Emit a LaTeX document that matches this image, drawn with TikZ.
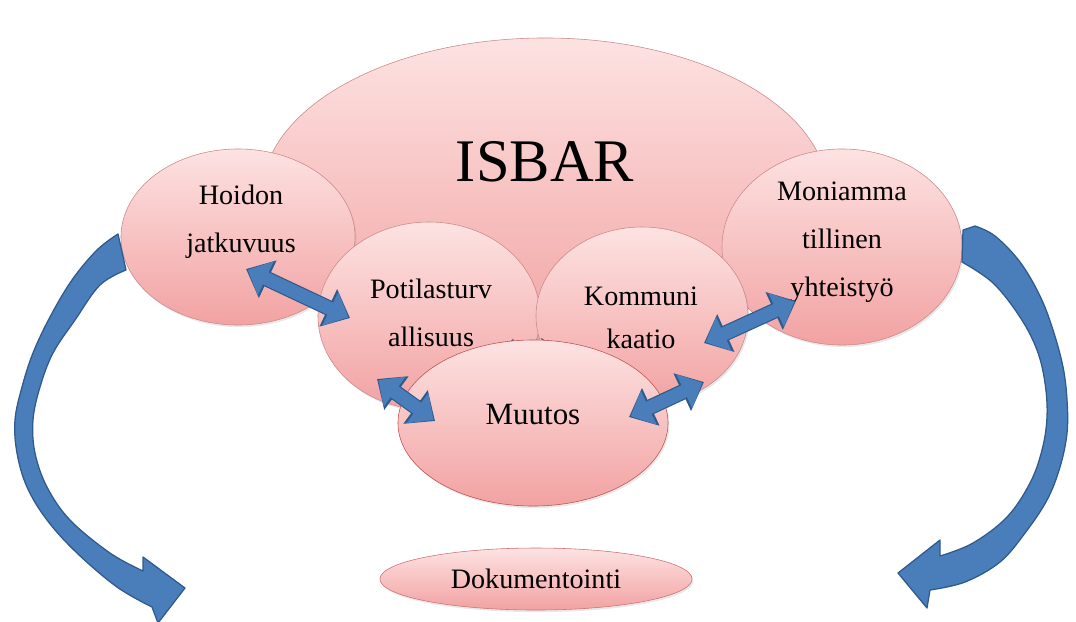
\documentclass[tikz,border=0pt]{standalone}
\usepackage{fontspec}
\setmainfont{Liberation Serif}
\usetikzlibrary{arrows.meta}
\usetikzlibrary{shapes.geometric, shadows}

\definecolor{bubbletop}{HTML}{FDE2E2}
\definecolor{bubblebottom}{HTML}{F2A2A2}
\definecolor{bubbleedge}{HTML}{C98A8A}
\definecolor{muutosedge}{HTML}{C0504D}
\definecolor{dokedge}{HTML}{CF7070}
\definecolor{arrowblue}{HTML}{4A7EBB}
\definecolor{arrowedge}{HTML}{2F5A8C}

\begin{document}
\begin{tikzpicture}[
            x=0.025cm, y=-0.025cm,
            bubble/.style={ellipse, draw=bubbleedge, thin, top color=bubbletop, bottom color=bubblebottom, inner sep=0pt,
                drop shadow={opacity=0.18, shadow xshift=1pt, shadow yshift=-1.5pt}},
            bubble_text/.style={align=center, font=\fontsize{20}{34}\selectfont, text=black},
            dbl_arrow/.style={draw=arrowblue, line width=0.33cm, shorten >=0.045cm, shorten <=0.045cm,
                {Triangle[length=0.5cm, width=0.9cm]}-{Triangle[length=0.5cm, width=0.9cm]},
                preaction={draw=arrowedge, line width=0.39cm, shorten >=0pt, shorten <=0pt,
                    {Triangle[length=0.6cm, width=1cm]}-{Triangle[length=0.6cm, width=1cm]}}},
            bend_arrow/.style={fill=arrowblue, draw=arrowedge, line width=0.9pt, line join=round}
        ]
        \useasboundingbox (0,0) rectangle (1076,621);

        % Big ISBAR bubble
        \node[bubble, minimum width=14.15cm, minimum height=7.85cm] (isbar) at (545,195) {};
        \node[font=\fontsize{43}{43}\selectfont] (isbar_label) at (545,162) {ISBAR};

        % Side bubbles
        \node[bubble, minimum width=5.85cm, minimum height=4.4cm] (hoidon) at (238,237) {};
        \node[bubble, minimum width=6cm, minimum height=4.9cm] (moniamma) at (842,247) {};
        \node[bubble, minimum width=5.55cm, minimum height=4.7cm] (potilas) at (429,316) {};
        \node[bubble, minimum width=5.3cm, minimum height=4.45cm] (kommuni) at (642,316) {};

        \node[bubble_text] (hoidon_label) at (241,222) {Hoidon\\jatkuvuus};
        \node[bubble_text] (moniamma_label) at (842,242) {Moniamma\\tillinen\\yhteistyö};
        \node[bubble_text] (potilas_label) at (431,313) {Potilasturv\\allisuus};
        \node[bubble_text, font=\fontsize{20}{31}\selectfont] (kommuni_label) at (641,318) {Kommuni\\kaatio};

        % Arrow hidden behind Muutos
        \coordinate (pk_a) at (490,360);
        \coordinate (pk_b) at (566,358);
        \draw[dbl_arrow] (pk_a) -- (pk_b);

        % Muutos and Dokumentointi
        \node[bubble, draw=muutosedge, minimum width=6.75cm, minimum height=4.15cm] (muutos) at (533,423) {};
        \node[font=\fontsize{22}{22}\selectfont] (muutos_label) at (533,415) {Muutos};
        \node[bubble, draw=dokedge, minimum width=7.8cm, minimum height=1.55cm,
              font=\fontsize{20}{20}\selectfont] (dokumentointi) at (536,579) {Dokumentointi};

        % Double arrows between bubbles
        \coordinate (hp_a) at (246,269);
        \coordinate (hp_b) at (350,318);
        \coordinate (pm_a) at (377,379);
        \coordinate (pm_b) at (435,421);
        \coordinate (mk_a) at (629,417);
        \coordinate (mk_b) at (704,382);
        \coordinate (km_a) at (704,343);
        \coordinate (km_b) at (796,301);
        \draw[dbl_arrow] (hp_a) -- (hp_b);
        \draw[dbl_arrow] (pm_a) -- (pm_b);
        \draw[dbl_arrow] (mk_a) -- (mk_b);
        \draw[dbl_arrow] (km_a) -- (km_b);

        % Curved arrows on the sides
        \draw[bend_arrow] (126,270) -- plot[smooth, tension=0.6] coordinates {(118,234) (97,250) (72,280) (50,317) (33,353) (22,387) (15,420) (17,453) (27,487) (47,520) (77,553) (117,587) (152,607)}
            -- (158,623) -- (185,588) -- (143,557)
            -- plot[smooth, tension=0.6] coordinates {(143,571) (110,553) (70,520) (47,487) (35,453) (33,420) (40,387) (53,353) (75,320) (100,285) (126,270)}
            -- cycle;
        \draw[bend_arrow] (963,230) -- plot[smooth, tension=0.6] coordinates {(975,226) (995,236) (1020,262) (1040,296) (1053,330) (1063,367) (1067,400) (1067,433) (1060,467) (1047,500) (1025,533) (1000,562) (965,582) (930,590)}
            -- (927,608) -- (898,573) -- (940,540)
            -- plot[smooth, tension=0.6] coordinates {(940,556) (973,543) (1007,517) (1030,483) (1042,450) (1047,417) (1045,383) (1037,350) (1020,317) (993,283) (962,262)}
            -- cycle;

    \end{tikzpicture}
\end{document}
